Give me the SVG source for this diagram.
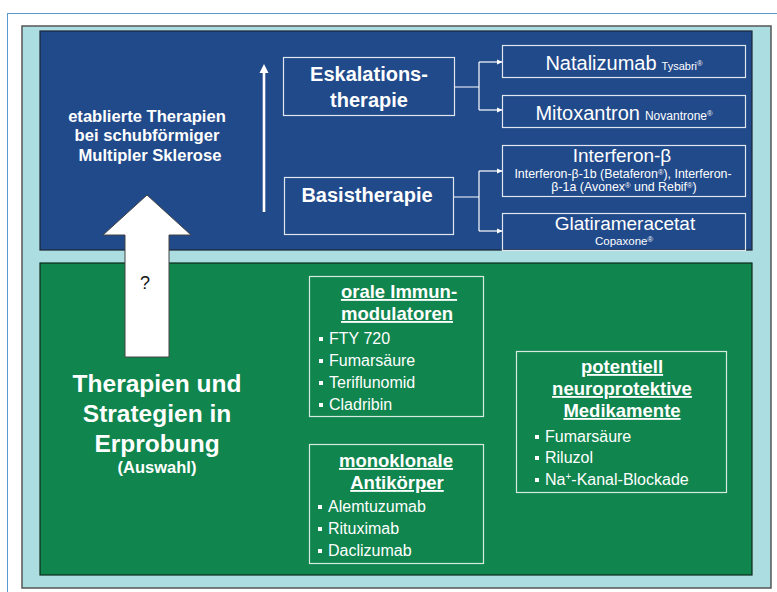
<svg xmlns="http://www.w3.org/2000/svg" width="777" height="592" viewBox="0 0 777 592">
<style>
text{font-family:"Liberation Sans",Arial,sans-serif;fill:#fff}
.b{font-weight:bold}
.box{fill:none;stroke:#dfe6ee;stroke-width:1.2}
.gbox{fill:none;stroke:#d8eadf;stroke-width:1.2}
.con{fill:none;stroke:#fff;stroke-width:1.2}
.tit{font-weight:bold;font-size:18.5px;text-decoration:underline;text-anchor:middle}
.it{font-size:16px}
.bul{fill:#fff}
.c{text-anchor:middle}
.sup{font-size:7.5px}
</style>
<defs>
<marker id="ah" markerWidth="6" markerHeight="6" refX="5" refY="3" orient="auto" markerUnits="userSpaceOnUse">
<path d="M0,0.5 L5.5,3 L0,5.5 z" fill="#fff"/>
</marker>
</defs>
<rect x="0" y="0" width="777" height="592" fill="#fff"/>
<rect x="7.5" y="13.5" width="800" height="600" fill="#fff" stroke="#5a9ad0" stroke-width="1"/>
<rect x="22" y="26" width="749" height="562" fill="#acdde0" stroke="#555" stroke-width="1.5"/>
<g id="blue-panel">
<rect x="40" y="31" width="712" height="219" fill="#214a8b" stroke="#1a2535" stroke-width="1.2"/>
<text class="b c" font-size="16.6" x="147" y="122">etablierte Therapien</text>
<text class="b c" font-size="16.6" x="147" y="141">bei schubförmiger</text>
<text class="b c" font-size="16.6" x="150" y="161">Multipler Sklerose</text>
</g>
<g id="green-panel">
<rect x="40" y="263" width="712" height="312" fill="#10854e" stroke="#0d2a1c" stroke-width="1.2"/>
<text class="b c" font-size="24.5" x="157" y="392">Therapien und</text>
<text class="b c" font-size="24.5" x="157" y="422">Strategien in</text>
<text class="b c" font-size="24.5" x="157" y="452">Erprobung</text>
<text class="b c" font-size="16.5" x="157" y="473">(Auswahl)</text>
</g>
<g id="big-arrow">
<polygon points="147,195 191,235 169,235 169,357 125,357 125,235 103,235" fill="#fff" stroke="#444" stroke-width="1"/>
<text x="145" y="289" font-size="18" style="fill:#111" text-anchor="middle">?</text>
</g>
<g id="eskalation">
<rect class="box" x="283.5" y="57.5" width="171" height="58"/>
<text class="b c" font-size="20" x="369" y="81">Eskalations-</text>
<text class="b c" font-size="20" x="369" y="107">therapie</text>
</g>
<g id="basis">
<rect class="box" x="284.5" y="177.5" width="169" height="57"/>
<text class="b c" font-size="20" x="367" y="202">Basistherapie</text>
</g>
<g id="natalizumab">
<rect class="box" x="502.5" y="45.5" width="243" height="32"/>
<text class="c" x="624" y="70"><tspan font-size="20">Natalizumab</tspan><tspan font-size="11" dx="5">Tysabri</tspan><tspan class="sup" dy="-4">®</tspan></text>
</g>
<g id="mitoxantron">
<rect class="box" x="502.5" y="95.5" width="243" height="32"/>
<text class="c" x="624" y="120"><tspan font-size="20">Mitoxantron</tspan><tspan font-size="12" dx="5">Novantrone</tspan><tspan class="sup" font-size="8" dy="-4">®</tspan></text>
</g>
<g id="interferon">
<rect class="box" x="502.5" y="145.5" width="243" height="51"/>
<text class="c" font-size="19" x="622" y="162">Interferon-β</text>
<text class="c" font-size="12.4" x="623" y="178">Interferon-β-1b (Betaferon<tspan class="sup" dy="-3">®</tspan><tspan dy="3">), Interferon-</tspan></text>
<text class="c" font-size="12.4" x="624" y="191">β-1a (Avonex<tspan class="sup" dy="-3">®</tspan><tspan dy="3"> und Rebif</tspan><tspan class="sup" dy="-3">®</tspan><tspan dy="3">)</tspan></text>
</g>
<g id="glatirameracetat">
<rect class="box" x="502.5" y="213.5" width="243" height="37"/>
<text class="c" font-size="19" x="625" y="230">Glatirameracetat</text>
<text class="c" font-size="11.5" x="624" y="245">Copaxone<tspan class="sup" dy="-3">®</tspan></text>
</g>
<g id="connectors">
<line x1="264" y1="212" x2="264" y2="72" stroke="#fff" stroke-width="2.6"/>
<polygon points="264,64 268.5,73 259.5,73" fill="#fff"/>
<path class="con" d="M455,87 H479 M479,62 V110"/>
<line class="con" x1="479" y1="62" x2="502" y2="62" marker-end="url(#ah)"/>
<line class="con" x1="479" y1="110" x2="502" y2="110" marker-end="url(#ah)"/>
<path class="con" d="M454,197 H479 M479,171 V231"/>
<line class="con" x1="479" y1="171" x2="502" y2="171" marker-end="url(#ah)"/>
<line class="con" x1="479" y1="231" x2="502" y2="231" marker-end="url(#ah)"/>
</g>
<g id="orale">
<rect class="gbox" x="309.5" y="276.5" width="174" height="140"/>
<text class="tit" x="399" y="298">orale Immun-</text>
<text class="tit" x="397" y="320">modulatoren</text>
<rect class="bul" x="319" y="337" width="4" height="4"/>
<text class="it" x="329" y="344">FTY 720</text>
<rect class="bul" x="319" y="359" width="4" height="4"/>
<text class="it" x="329" y="366">Fumarsäure</text>
<rect class="bul" x="319" y="381" width="4" height="4"/>
<text class="it" x="329" y="388">Teriflunomid</text>
<rect class="bul" x="319" y="403" width="4" height="4"/>
<text class="it" x="329" y="410">Cladribin</text>
</g>
<g id="monoklonale">
<rect class="gbox" x="309.5" y="444.5" width="174" height="119"/>
<text class="tit" x="396" y="467">monoklonale</text>
<text class="tit" x="397" y="489">Antikörper</text>
<rect class="bul" x="318" y="505" width="4" height="4"/>
<text class="it" x="328" y="512">Alemtuzumab</text>
<rect class="bul" x="318" y="527" width="4" height="4"/>
<text class="it" x="328" y="534">Rituximab</text>
<rect class="bul" x="318" y="549" width="4" height="4"/>
<text class="it" x="328" y="556">Daclizumab</text>
</g>
<g id="neuroprotektiv">
<rect class="gbox" x="516.5" y="351.5" width="210" height="141"/>
<text class="tit" x="622" y="373">potentiell</text>
<text class="tit" x="622" y="395">neuroprotektive</text>
<text class="tit" x="622" y="417">Medikamente</text>
<rect class="bul" x="535" y="435" width="4" height="4"/>
<text class="it" x="545" y="442">Fumarsäure</text>
<rect class="bul" x="535" y="456" width="4" height="4"/>
<text class="it" x="545" y="463">Riluzol</text>
<rect class="bul" x="535" y="478" width="4" height="4"/>
<text class="it" x="545" y="485" font-size="16.4">Na<tspan font-size="10" dy="-5">+</tspan><tspan dy="5">-Kanal-Blockade</tspan></text>
</g>
</svg>
